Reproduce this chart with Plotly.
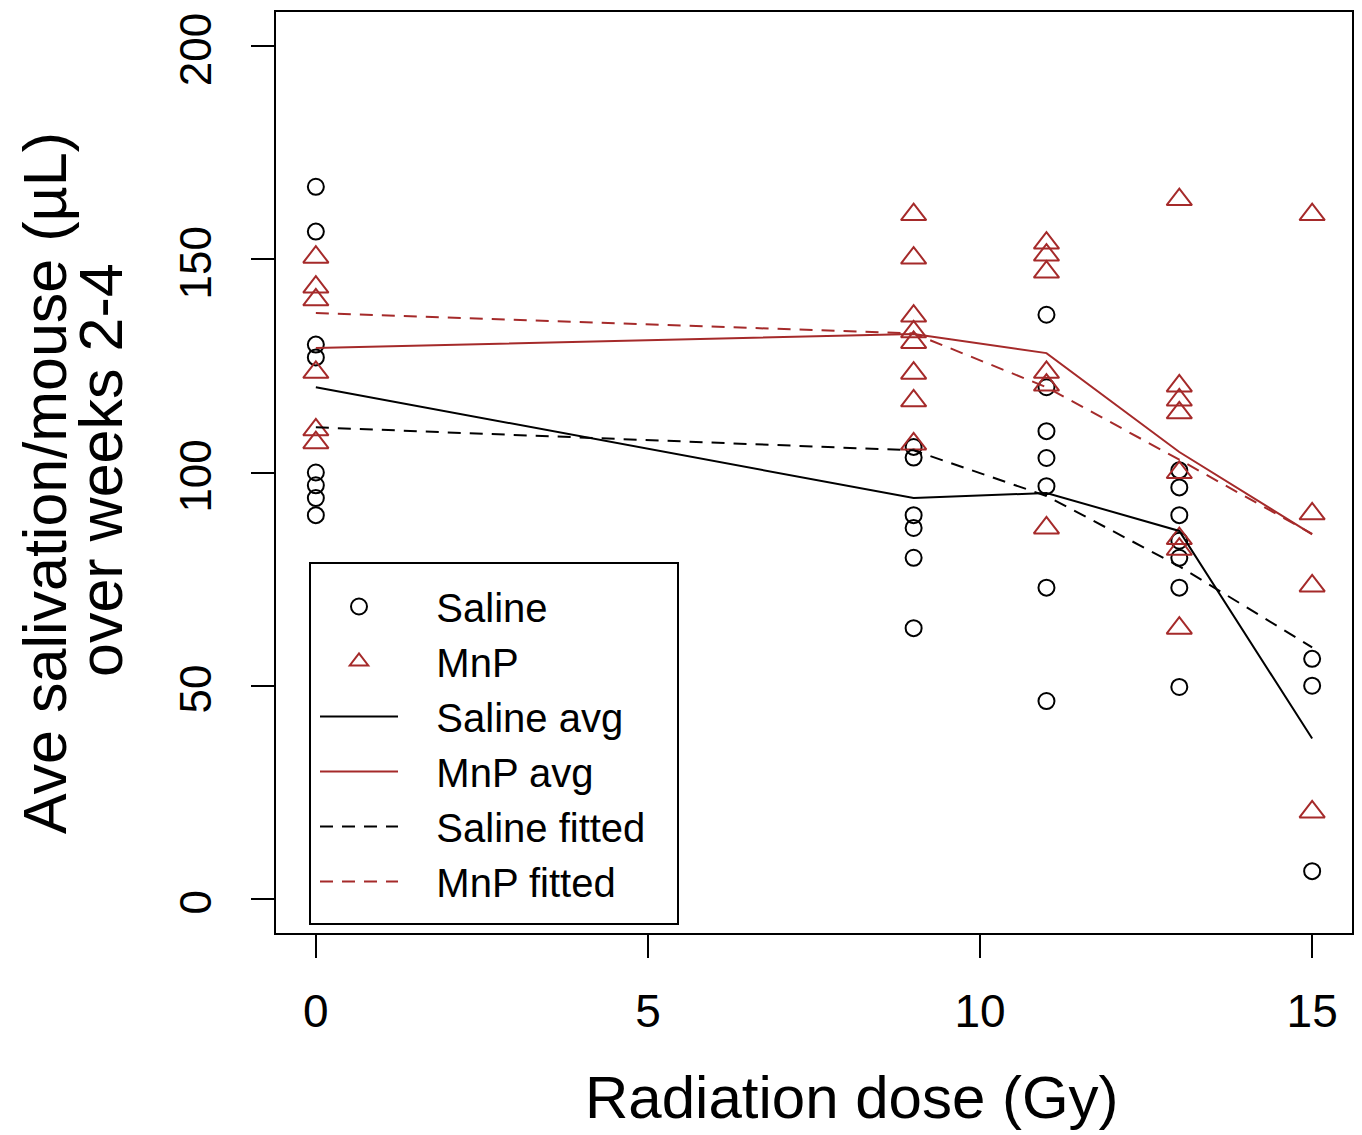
import plotly.graph_objects as go

# ---- data ----
doses = [0, 9, 11, 13, 15]

saline_x = [0]*8 + [9]*6 + [11]*7 + [13]*7 + [15]*3
saline_y = [167, 156.5, 130, 127, 100, 97, 94, 90,
            106, 103.5, 90, 87, 80, 63.5,
            137, 120, 109.7, 103.4, 96.8, 73, 46.4,
            100.5, 96.5, 90, 84, 80, 73, 49.7,
            56.3, 50, 6.5]

mnp_x = [0]*6 + [9]*8 + [11]*6 + [13]*8 + [15]*4
mnp_y = [150.5, 143.5, 140.5, 123.5, 110, 107,
         160.5, 150.3, 136.7, 133, 130.5, 123.3, 116.8, 106.7,
         153.8, 151, 147, 123.5, 120.5, 87,
         164, 120.3, 117, 114, 100, 84.5, 82, 63.5,
         160.5, 90.3, 73.4, 20.4]

saline_avg = [120, 94, 95.2, 86.3, 37.6]
mnp_avg = [129.2, 132.5, 128, 104.8, 85.5]
saline_fit = [110.6, 105.2, 94.5, 78, 59]
mnp_fit = [137.4, 132.6, 120, 103, 85.6]

x_ticks = [0, 5, 10, 15]
y_ticks = [0, 50, 100, 150, 200]

RED = "#A52A2A"
FONT = "Liberation Sans, Arial, sans-serif"
PAD = "\u00a0\u00a0\u00a0"

# page body has an 8px margin; figure is sized so that the plot area lands
# at screen x 276..1352, y 12..933
OFF = 8
FIG_W, FIG_H = 1354, 1127
L, T = 276 - OFF, 12 - OFF
PLOT_W, PLOT_H = 1352 - 276, 933 - 12
R = FIG_W - L - PLOT_W
B = FIG_H - T - PLOT_H

fig = go.Figure()
fig.add_trace(go.Scatter(x=saline_x, y=saline_y, mode="markers", name=PAD + "Saline",
                         marker=dict(symbol="circle-open", size=16, color="black",
                                     line=dict(width=2, color="black"))))
fig.add_trace(go.Scatter(x=mnp_x, y=mnp_y, mode="markers", name=PAD + "MnP",
                         marker=dict(symbol="triangle-up-open", size=22, color=RED,
                                     line=dict(width=2, color=RED))))
fig.add_trace(go.Scatter(x=doses, y=saline_avg, mode="lines", name=PAD + "Saline avg",
                         line=dict(color="black", width=2)))
fig.add_trace(go.Scatter(x=doses, y=mnp_avg, mode="lines", name=PAD + "MnP avg",
                         line=dict(color=RED, width=2)))
fig.add_trace(go.Scatter(x=doses, y=saline_fit, mode="lines", name=PAD + "Saline fitted",
                         line=dict(color="black", width=2, dash="13px,9px")))
fig.add_trace(go.Scatter(x=doses, y=mnp_fit, mode="lines", name=PAD + "MnP fitted",
                         line=dict(color=RED, width=2, dash="13px,9px")))

axis_common = dict(showline=True, mirror=True, linecolor="black", linewidth=2,
                   ticks="outside", ticklen=23, tickwidth=2, tickcolor="black",
                   showgrid=False, zeroline=False, automargin=False,
                   ticklabeloverflow="allow")

fig.update_xaxes(range=[-0.6, 15.6], tickvals=x_ticks, ticklabelstandoff=14,
                 tickfont=dict(family=FONT, size=46, color="black"), **axis_common)
fig.update_yaxes(range=[-8, 208], tickvals=y_ticks, tickangle=-90, ticklabelstandoff=22,
                 ticklabelshift=10,
                 tickfont=dict(family=FONT, size=44, color="black"), **axis_common)


def px_x(px):
    return (px - 276) / PLOT_W


def px_y(py):
    return (933 - py) / PLOT_H


fig.add_annotation(text="Ave salivation/mouse (µL)", xref="paper", yref="paper",
                   x=px_x(45), y=px_y(483), xanchor="center", yanchor="middle",
                   textangle=-90, showarrow=False,
                   font=dict(family=FONT, size=61, color="black"))
fig.add_annotation(text="over weeks 2-4", xref="paper", yref="paper",
                   x=px_x(101), y=px_y(470), xanchor="center", yanchor="middle",
                   textangle=-90, showarrow=False,
                   font=dict(family=FONT, size=61, color="black"))
fig.add_annotation(text="Radiation dose (Gy)", xref="paper", yref="paper",
                   x=px_x(852), y=px_y(1097), xanchor="center", yanchor="middle",
                   showarrow=False, font=dict(family=FONT, size=60, color="black"))

# legend box
fig.add_shape(type="rect", xref="paper", yref="paper",
              x0=px_x(310), x1=px_x(678), y0=px_y(924), y1=px_y(563),
              line=dict(color="black", width=2), fillcolor="white", layer="above")

fig.update_layout(
    width=FIG_W, height=FIG_H, autosize=False,
    margin=dict(l=L, r=R, t=T, b=B, autoexpand=False),
    paper_bgcolor="white", plot_bgcolor="white",
    showlegend=True,
    legend=dict(x=px_x(315), y=px_y(574), xanchor="left", yanchor="top",
                bgcolor="rgba(0,0,0,0)", borderwidth=0, itemwidth=78,
                font=dict(family=FONT, size=40, color="black"), traceorder="normal"),
)

fig.write_html("out.html")
